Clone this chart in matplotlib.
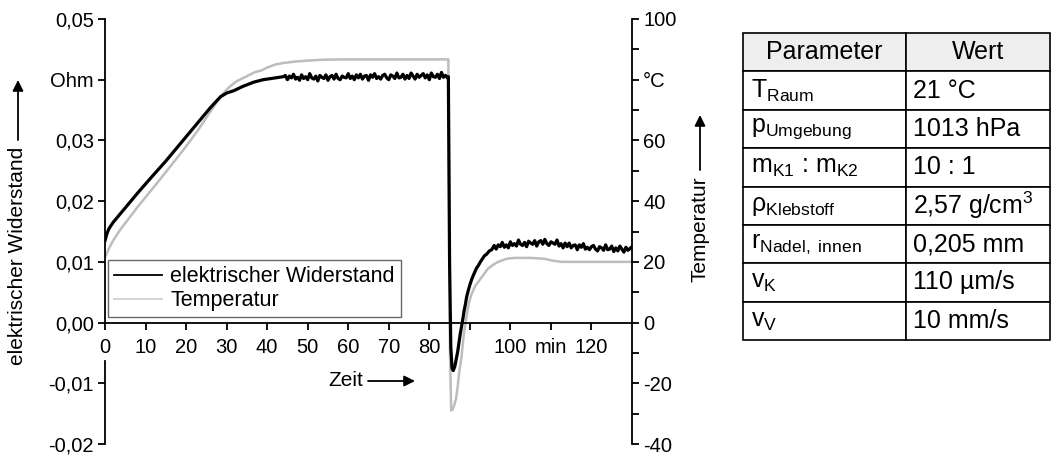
import numpy as np
import matplotlib.pyplot as plt

plt.rcParams['font.family'] = ['Liberation Sans', 'DejaVu Sans']
plt.rcParams['mathtext.fontset'] = 'custom'
plt.rcParams['mathtext.rm'] = 'Liberation Sans'
plt.rcParams['mathtext.it'] = 'Liberation Sans:italic'
plt.rcParams['mathtext.default'] = 'regular'

# --- elektrischer Widerstand (Ohm) ---
r_rise_t = [0, 0.5, 1, 2, 5, 8, 11, 15, 20, 23.5, 26, 28.5, 30, 31.8, 34, 36.7, 39, 42, 44]
r_rise = [0.0135, 0.0147, 0.0155, 0.0165, 0.0189, 0.0213, 0.0236, 0.0266, 0.0306, 0.0334,
          0.0354, 0.0372, 0.0378, 0.0382, 0.0389, 0.0396, 0.0400, 0.0403, 0.0405]

r_plat1 = [0.0407, 0.0400, 0.0406, 0.0403, 0.0409, 0.0401, 0.0404, 0.0399, 0.0408, 0.0402,
           0.0405, 0.0400, 0.0410, 0.0403, 0.0401, 0.0406, 0.0398, 0.0407, 0.0404, 0.0402,
           0.0408, 0.0399, 0.0405, 0.0407, 0.0401, 0.0409, 0.0402, 0.0400, 0.0406, 0.0404,
           0.0403, 0.0410, 0.0402, 0.0406, 0.0400, 0.0408, 0.0403, 0.0409, 0.0401, 0.0406,
           0.0407, 0.0399, 0.0408, 0.0404, 0.0410, 0.0402, 0.0405, 0.0401, 0.0407, 0.0409,
           0.0403, 0.0400, 0.0408, 0.0406, 0.0402, 0.0411, 0.0403, 0.0404, 0.0409, 0.0401,
           0.0407, 0.0402, 0.0411, 0.0406, 0.0401, 0.0409, 0.0404, 0.0407, 0.0410, 0.0403,
           0.0408, 0.0400, 0.0411, 0.0405, 0.0404, 0.0409, 0.0402, 0.0412, 0.0404, 0.0407,
           0.0403]
r_plat1_t = np.linspace(44.5, 84.5, len(r_plat1))

r_drop_t = [84.7, 84.8, 85.0, 85.3, 85.6, 85.9, 86.3, 86.7, 87.0, 87.3, 87.6, 88.0, 88.3, 88.6,
            88.9, 89.2, 89.5, 90.0, 90.5, 91.0, 91.6, 92.1, 92.6, 93.1, 93.6, 94.2, 94.8, 95.4]
r_drop = [0.0405, 0.0300, 0.0100, -0.0040, -0.0075, -0.0079, -0.0072, -0.0058, -0.0048, -0.0034,
          -0.0020, -0.0005, 0.0007, 0.0020, 0.0030, 0.0042, 0.0050, 0.0062, 0.0072, 0.0080,
          0.0089, 0.0094, 0.0100, 0.0105, 0.0110, 0.0113, 0.0118, 0.0120]

r_plat2 = [0.0127, 0.0121, 0.0128, 0.0125, 0.0132, 0.0124, 0.0128, 0.0123, 0.0133, 0.0127,
           0.0130, 0.0126, 0.0136, 0.0129, 0.0127, 0.0132, 0.0125, 0.0134, 0.0131, 0.0129,
           0.0135, 0.0126, 0.0133, 0.0135, 0.0129, 0.0137, 0.0130, 0.0127, 0.0133, 0.0131,
           0.0129, 0.0136, 0.0126, 0.0130, 0.0123, 0.0131, 0.0125, 0.0131, 0.0123, 0.0127,
           0.0128, 0.0120, 0.0128, 0.0124, 0.0130, 0.0121, 0.0124, 0.0120, 0.0125, 0.0127,
           0.0121, 0.0118, 0.0125, 0.0123, 0.0119, 0.0128, 0.0120, 0.0121, 0.0126, 0.0117,
           0.0123, 0.0118, 0.0126, 0.0121, 0.0116, 0.0124, 0.0119, 0.0122, 0.0125]
r_plat2_t = np.linspace(96, 130, len(r_plat2))

# --- Temperatur (°C) ---
temp_t = [0, 1, 2, 3.7, 8, 13.6, 19.4, 23, 26, 28, 29.5, 31, 32.5, 34, 35.5, 37, 38.5,
          40, 42, 44, 47, 50, 54, 60, 84.6,
          84.7, 84.9, 85.1, 85.4, 85.8, 86.2, 86.6, 87.0, 87.4, 87.9, 88.5, 89.1, 89.7, 90.3,
          91.3, 92.4, 93.5, 94.5, 95.7, 97, 99, 101, 105, 108.5, 110, 112.6, 130]
temp = [21.5, 24.5, 27, 30.5, 38, 47.2, 57, 63.5, 69.5, 73.5, 76, 78, 79.5, 80.5,
        81.5, 82.5, 83, 84, 85, 85.5, 86, 86.3, 86.6, 86.7, 86.7,
        86.7, 40, -10, -29, -28.5, -27, -25, -21, -16, -11.8, -4, 1.3, 6, 9,
        12, 14, 16, 17.8, 19, 20, 21, 21.3, 21.3, 21, 20.5, 20, 20]

x_ticks = [0, 10, 20, 30, 40, 50, 60, 70, 80, 90, 100, 110, 120]
x_labels = ['0', '10', '20', '30', '40', '50', '60', '70', '80', '', '100', 'min', '120']
yl_ticks = [0.05, 0.04, 0.03, 0.02, 0.01, 0.0, -0.01, -0.02]
yl_labels = ['0,05', 'Ohm', '0,03', '0,02', '0,01', '0,00', '-0,01', '-0,02']
yr_ticks = [100, 80, 60, 40, 20, 0, -20, -40]
yr_labels = ['100', '°C', '60', '40', '20', '0', '-20', '-40']

tab_rows = [
    [r'$T_{Raum}$', '21 °C'],
    [r'$p_{Umgebung}$', '1013 hPa'],
    [r'$m_{K1}$ : $m_{K2}$', '10 : 1'],
    [r'$ρ_{Klebstoff}$', r'2,57 g/cm$^{3}$'],
    [r'$r_{Nadel,\ innen}$', '0,205 mm'],
    [r'$v_{K}$', '110 µm/s'],
    [r'$v_{V}$', '10 mm/s'],
]

W, H = 1055, 455
FS = 14.5
fig = plt.figure(figsize=(W / 100, H / 100), dpi=100)
ax = fig.add_axes([105 / W, 1 - 444 / H, 527 / W, 425 / H])
ax2 = ax.twinx()

r_t = np.concatenate([r_rise_t, r_plat1_t, r_drop_t, r_plat2_t])
r_v = np.concatenate([r_rise, r_plat1, r_drop, r_plat2])

l2, = ax2.plot(temp_t, temp, color='#bdbdbd', lw=1.8, label='Temperatur')
l1, = ax.plot(r_t, r_v, color='black', lw=2.3, label='elektrischer Widerstand')

ax.set_zorder(ax2.get_zorder() + 1)
ax.patch.set_visible(False)

ax.set_xlim(0, 130)
ax.set_ylim(-0.02, 0.05)
ax2.set_ylim(-40, 100)

ax.set_xticks(x_ticks)
ax.set_xticklabels(x_labels)
ax.set_yticks(yl_ticks)
ax.set_yticklabels(yl_labels)
ax2.set_yticks(yr_ticks)
ax2.set_yticklabels(yr_labels)
ax2.set_yticks([90, 70, 50, 30, 10, -10, -30], minor=True)

for a in (ax, ax2):
    for s in a.spines.values():
        s.set_linewidth(1.3)
ax.spines['top'].set_visible(False)
ax.spines['right'].set_visible(False)
ax.spines['bottom'].set_position(('data', 0))
ax.spines['left'].set_bounds(0, 0.05)
ax2.spines['top'].set_visible(False)
ax2.spines['bottom'].set_visible(False)
ax2.spines['left'].set_bounds(-40, -12.5)

ax.tick_params(axis='y', direction='out', length=5, width=1.3, labelsize=FS, pad=3)
ax.tick_params(axis='x', direction='out', length=5, width=1.3, labelsize=FS, pad=6)
ax2.tick_params(axis='y', which='both', direction='out', length=5, width=1.3, labelsize=FS, pad=3)

leg = ax.legend(handles=[l1, l2], loc='upper left', bbox_to_anchor=(108 / W, 1 - 260 / H),
                bbox_transform=fig.transFigure, fontsize=15.5, frameon=True, fancybox=False,
                borderaxespad=0, borderpad=0.3, labelspacing=0.12, handlelength=2.2,
                handletextpad=0.4)
leg.get_frame().set_edgecolor('#444444')
leg.get_frame().set_linewidth(1.0)
leg.get_lines()[1].set_color('#d0d0d0')
leg.get_lines()[1].set_linewidth(1.3)
leg.get_lines()[0].set_linewidth(1.3)

# axis captions with arrows
fig.text(18 / W, 1 - 256 / H, 'elektrischer Widerstand', rotation=90, ha='center', va='center', fontsize=15)
fig.text(700 / W, 1 - 229 / H, 'Temperatur', rotation=90, ha='center', va='center', fontsize=15)
fig.text(328 / W, 1 - 381 / H, 'Zeit', ha='left', va='center', fontsize=15)
arrow = dict(arrowstyle='-|>', color='black', lw=1.3, mutation_scale=16, shrinkA=0, shrinkB=0)
for start, end in [((18, 140), (18, 80)), ((700, 170), (700, 115)), ((368, 381), (415, 381))]:
    ax.annotate('', xy=(end[0] / W, 1 - end[1] / H), xycoords='figure fraction',
                xytext=(start[0] / W, 1 - start[1] / H), textcoords='figure fraction',
                arrowprops=arrow, annotation_clip=False)

# parameter table
tax = fig.add_axes([743 / W, 1 - 340 / H, 307 / W, 307 / H])
tax.axis('off')
tbl = tax.table(cellText=tab_rows, colLabels=['Parameter', 'Wert'], colLoc='center',
                cellLoc='left', colWidths=[163 / 307, 144 / 307], bbox=[0, 0, 1, 1])
tbl.auto_set_font_size(False)
tbl.set_fontsize(18)
for (r, c), cell in tbl.get_celld().items():
    cell.set_linewidth(1.2)
    cell.set_edgecolor('black')
    cell.PAD = 0.05
    if r == 0:
        cell.set_facecolor('#eeeeee')

fig.savefig('out.png', dpi=100)
